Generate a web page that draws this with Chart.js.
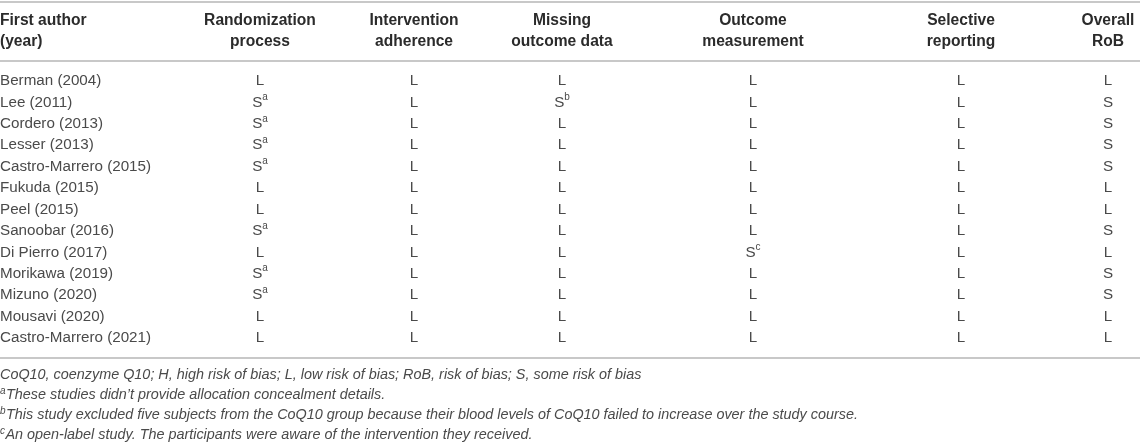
<!DOCTYPE html>
<html>
<head>
<meta charset="utf-8">
<title>Risk of bias</title>
<script src="https://cdn.jsdelivr.net/npm/chart.js@4.4.1/dist/chart.umd.min.js"></script>
<style>
    html, body { margin: 0; padding: 0; background: #fff; }
    #wrap { width: 1145px; height: 443px; position: relative; }
</style>
</head>
<body>
<div id="wrap"><canvas id="robChart"></canvas></div>
<script>
// Table content
const authors = [
    "Berman (2004)", "Lee (2011)", "Cordero (2013)", "Lesser (2013)",
    "Castro-Marrero (2015)", "Fukuda (2015)", "Peel (2015)", "Sanoobar (2016)",
    "Di Pierro (2017)", "Morikawa (2019)", "Mizuno (2020)", "Mousavi (2020)",
    "Castro-Marrero (2021)"
];
const headers = [
    ["First author", "(year)"],
    ["Randomization", "process"],
    ["Intervention", "adherence"],
    ["Missing", "outcome data"],
    ["Outcome", "measurement"],
    ["Selective", "reporting"],
    ["Overall", "RoB"]
];
const randomization = ["L", "S^a", "S^a", "S^a", "S^a", "L", "L", "S^a", "L", "S^a", "S^a", "L", "L"];
const adherence = ["L", "L", "L", "L", "L", "L", "L", "L", "L", "L", "L", "L", "L"];
const missingData = ["L", "S^b", "L", "L", "L", "L", "L", "L", "L", "L", "L", "L", "L"];
const measurement = ["L", "L", "L", "L", "L", "L", "L", "L", "S^c", "L", "L", "L", "L"];
const reporting = ["L", "L", "L", "L", "L", "L", "L", "L", "L", "L", "L", "L", "L"];
const overall = ["L", "S", "S", "S", "S", "L", "L", "S", "L", "S", "S", "L", "L"];
const footnotes = [
    ["", "CoQ10, coenzyme Q10; H, high risk of bias; L, low risk of bias; RoB, risk of bias; S, some risk of bias"],
    ["a", "These studies didn\u2019t provide allocation concealment details."],
    ["b", "This study excluded five subjects from the CoQ10 group because their blood levels of CoQ10 failed to increase over the study course."],
    ["c", "An open-label study. The participants were aware of the intervention they received."]
];

const columns = [randomization, adherence, missingData, measurement, reporting, overall];

// Layout (column centres on the x scale, which runs 0..1145)
const colCenters = [260, 414, 562, 753, 961, 1108];
const headerY = [21, 42];
const ruleY = [2, 61, 358];
const footY = [375, 395, 415, 435];

const bodyFont = "15.2px 'Liberation Sans', Arial, sans-serif";
const supFont = "10px 'Liberation Sans', Arial, sans-serif";
const headFont = "bold 15.6px 'Liberation Sans', Arial, sans-serif";
const footFont = "italic 14.4px 'Liberation Sans', Arial, sans-serif";
const footSupFont = "italic 10px 'Liberation Sans', Arial, sans-serif";

// One point per cell, placed by the scales
const cellPoints = [];
columns.forEach((col, c) => {
    col.forEach((val, r) => {
        cellPoints.push({ x: colCenters[c], y: authors[r], text: val });
    });
});

// Draws "S^a" style text centred at x
function drawMarked(ctx, text, x, y, mainFont, smallFont) {
    const parts = text.split("^");
    ctx.font = mainFont;
    const w1 = ctx.measureText(parts[0]).width;
    ctx.font = smallFont;
    const w2 = parts[1] ? ctx.measureText(parts[1]).width : 0;
    const left = x - (w1 + w2) / 2;
    ctx.textAlign = "left";
    ctx.font = mainFont;
    ctx.fillText(parts[0], left, y);
    if (parts[1]) {
        ctx.font = smallFont;
        ctx.fillText(parts[1], left + w1, y - 5);
    }
}

const tablePlugin = {
    id: "tableText",
    afterDraw(chart) {
        const ctx = chart.ctx;
        const xs = chart.scales.x;
        const ys = chart.scales.y;
        ctx.save();

        // rules
        ctx.strokeStyle = "#c8c8c8";
        ctx.lineWidth = 2;
        ruleY.forEach(y => {
            ctx.beginPath();
            ctx.moveTo(xs.getPixelForValue(0), y);
            ctx.lineTo(xs.getPixelForValue(1140), y);
            ctx.stroke();
        });

        // headers
        ctx.fillStyle = "#2b2b2b";
        ctx.font = headFont;
        ctx.textBaseline = "middle";
        headers.forEach((lines, i) => {
            lines.forEach((line, k) => {
                if (i === 0) {
                    ctx.textAlign = "left";
                    ctx.fillText(line, xs.getPixelForValue(0), headerY[k]);
                } else {
                    ctx.textAlign = "center";
                    ctx.fillText(line, xs.getPixelForValue(colCenters[i - 1]), headerY[k]);
                }
            });
        });

        // author names
        ctx.fillStyle = "#4a4a4a";
        ctx.font = bodyFont;
        ctx.textAlign = "left";
        authors.forEach((name, r) => {
            ctx.fillText(name, xs.getPixelForValue(0), ys.getPixelForValue(r));
        });

        // cells
        const meta = chart.getDatasetMeta(0);
        meta.data.forEach((pt, i) => {
            drawMarked(ctx, cellPoints[i].text, pt.x, pt.y, bodyFont, supFont);
        });

        // footnotes
        footnotes.forEach((f, i) => {
            const y = footY[i];
            let x = xs.getPixelForValue(0);
            ctx.textAlign = "left";
            if (f[0]) {
                ctx.font = footSupFont;
                ctx.fillText(f[0], x, y - 4);
                x += ctx.measureText(f[0]).width + 0.5;
            }
            ctx.font = footFont;
            ctx.fillText(f[1], x, y);
        });

        ctx.restore();
    }
};

document.addEventListener("DOMContentLoaded", () => {
    const ctx = document.getElementById("robChart").getContext("2d");
    new Chart(ctx, {
        type: "scatter",
        data: {
            labels: authors,
            datasets: [
                {
                    label: "Cells",
                    data: cellPoints,
                    pointRadius: 0,
                    pointHoverRadius: 0,
                },
            ],
        },
        options: {
            responsive: true,
            maintainAspectRatio: false,
            animation: false,
            layout: {
                padding: { top: 70.3, bottom: 94.3, left: 0, right: 0 },
            },
            scales: {
                x: { type: "linear", min: 0, max: 1145, display: false },
                y: { type: "category", labels: authors, offset: true, display: false },
            },
            plugins: {
                legend: { display: false },
                tooltip: { enabled: false },
            },
        },
        plugins: [tablePlugin],
    });
});
</script>
</body>
</html>
